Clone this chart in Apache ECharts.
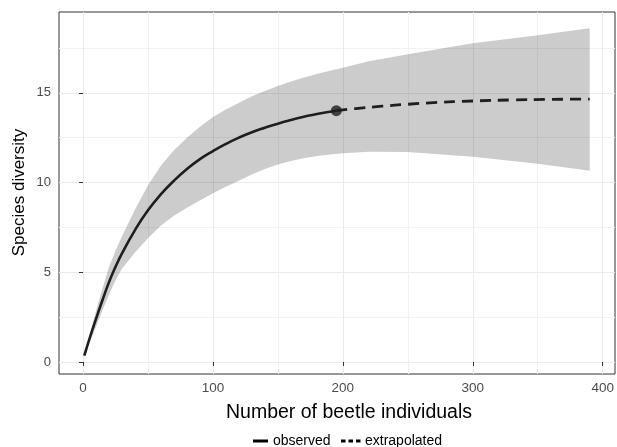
<!DOCTYPE html>
<html>
<head>
<meta charset="utf-8">
<script src="https://cdn.jsdelivr.net/npm/echarts@6/dist/echarts.min.js"></script>
<style>
html,body{margin:0;padding:0;background:#fff;}
#chart{width:617px;height:447px;}
</style>
</head>
<body>
<div id="chart"></div>
<script>
// observed rarefaction curve
var xObs = [1, 5, 10, 15, 20, 25, 30, 40, 50, 60, 70, 80, 90, 100, 110, 120, 130, 140, 150, 160, 170, 180, 195];
var yObs = [0.35, 1.3, 2.4, 3.45, 4.45, 5.3, 6.05, 7.35, 8.45, 9.35, 10.1, 10.75, 11.3, 11.75, 12.15, 12.5, 12.8, 13.05, 13.28, 13.48, 13.66, 13.82, 14.0];

// extrapolated part
var xExt = [195, 210, 230, 250, 270, 300, 330, 360, 390];
var yExt = [14.0, 14.12, 14.25, 14.36, 14.45, 14.54, 14.6, 14.63, 14.65];

// confidence band
var xBand = [1, 5, 10, 15, 20, 25, 30, 40, 50, 60, 70, 80, 90, 100, 110, 120, 130, 140, 150, 160, 170, 180, 190, 200, 220, 250, 300, 350, 390];
var bandLow = [0.3, 1.1, 1.95, 2.9, 3.75, 4.55, 5.2, 6.1, 6.9, 7.6, 8.15, 8.6, 9.0, 9.4, 9.77, 10.1, 10.45, 10.75, 11.0, 11.2, 11.35, 11.47, 11.56, 11.63, 11.72, 11.7, 11.44, 11.05, 10.66];
var bandHigh = [0.4, 1.5, 2.85, 4.1, 5.3, 6.2, 7.0, 8.5, 9.85, 10.95, 11.8, 12.5, 13.1, 13.65, 14.07, 14.45, 14.8, 15.1, 15.38, 15.63, 15.85, 16.05, 16.23, 16.4, 16.75, 17.15, 17.76, 18.2, 18.6];

// reference point (observed sample size)
var refPoint = [195, 14.0];

var xTicks = [0, 100, 200, 300, 400];
var xMinor = [50, 150, 250, 350];
var yTicks = [0, 5, 10, 15];
var yMinor = [2.5, 7.5, 12.5, 17.5];

function pairs(xs, ys){
	var out = [];
	for (var i = 0; i < xs.length; i++) out.push([xs[i], ys[i]]);
	return out;
}

var font = '"Liberation Sans", Arial, sans-serif';
var xMin = -18.5, xMax = 409.5, yMin = -0.67, yMax = 19.5;

var myChart = echarts.init(document.getElementById('chart'));

// ribbon polygon: upper edge left->right, lower edge right->left
function renderBand(params, api){
	var pts = [];
	for (var i = 0; i < xBand.length; i++) pts.push(api.coord([xBand[i], bandHigh[i]]));
	for (var j = xBand.length - 1; j >= 0; j--) pts.push(api.coord([xBand[j], bandLow[j]]));
	return {
		type: 'polygon',
		shape: {points: pts},
		style: {fill: 'rgba(0,0,0,0.2)', stroke: null}
	};
}

var option = {
	animation: false,
	grid: {
		left: 59, top: 12, width: 556, height: 362,
		show: true, borderColor: '#333', borderWidth: 1, backgroundColor: 'transparent'
	},
	xAxis: [{
		type: 'value', min: xMin, max: xMax,
		axisLine: {show: false},
		axisTick: {show: true, length: 4, lineStyle: {color: '#333'}, customValues: xTicks},
		axisLabel: {color: '#4d4d4d', fontSize: 13.5, fontFamily: font, margin: 7, customValues: xTicks},
		splitLine: {show: true, lineStyle: {color: '#ebebeb', width: 1}}
	}, {
		type: 'value', min: xMin, max: xMax, position: 'bottom',
		axisLine: {show: false},
		axisTick: {show: false, customValues: xMinor},
		axisLabel: {show: false, customValues: xMinor},
		splitLine: {show: true, lineStyle: {color: '#f2f2f2', width: 1}}
	}],
	yAxis: [{
		type: 'value', min: yMin, max: yMax,
		axisLine: {show: false},
		axisTick: {show: true, length: 4, lineStyle: {color: '#333'}, customValues: yTicks},
		axisLabel: {color: '#4d4d4d', fontSize: 13, fontFamily: font, margin: 8, customValues: yTicks},
		splitLine: {show: true, lineStyle: {color: '#ebebeb', width: 1}}
	}, {
		type: 'value', min: yMin, max: yMax, position: 'left',
		axisLine: {show: false},
		axisTick: {show: false, customValues: yMinor},
		axisLabel: {show: false, customValues: yMinor},
		splitLine: {show: true, lineStyle: {color: '#f2f2f2', width: 1}}
	}],
	series: [
		{
			name: 'band', type: 'custom', renderItem: renderBand,
			data: [[xBand[0], bandLow[0]]], silent: true, z: 1
		},
		{
			name: 'observed', type: 'line', smooth: 0.5,
			data: pairs(xObs, yObs), symbol: 'none',
			lineStyle: {color: '#1e1e1e', width: 2.6}, z: 3
		},
		{
			name: 'extrapolated', type: 'line', smooth: 0.5,
			data: pairs(xExt, yExt), symbol: 'none',
			lineStyle: {color: '#1e1e1e', width: 2.8, type: [11, 7]}, z: 3
		},
		{
			name: 'point', type: 'scatter',
			data: [refPoint], symbolSize: 11,
			itemStyle: {color: '#1e1e1e'}, z: 4
		}
	],
	graphic: [
		{
			type: 'text', x: 349, y: 403,
			style: {text: 'Number of beetle individuals', font: '19.5px ' + font, fill: '#000', textAlign: 'center'}
		},
		{
			type: 'text', x: 19.5, y: 192.5, rotation: Math.PI / 2,
			style: {text: 'Species diversity', font: '17px ' + font, fill: '#000', textAlign: 'center', textVerticalAlign: 'middle'}
		},
		{type: 'line', shape: {x1: 253, y1: 441, x2: 268, y2: 441}, style: {stroke: '#000', lineWidth: 3}},
		{type: 'text', x: 273, y: 441, style: {text: 'observed', font: '14px ' + font, fill: '#000', textVerticalAlign: 'middle'}},
		{type: 'line', shape: {x1: 341, y1: 441, x2: 362, y2: 441}, style: {stroke: '#000', lineWidth: 3, lineDash: [4.5, 3]}},
		{type: 'text', x: 365, y: 441, style: {text: 'extrapolated', font: '14px ' + font, fill: '#000', textVerticalAlign: 'middle'}}
	]
};

myChart.setOption(option);
</script>
</body>
</html>
